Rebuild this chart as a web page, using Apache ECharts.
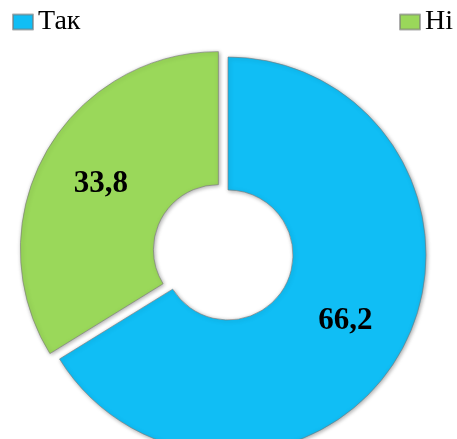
<!DOCTYPE html>
<html>
<head>
<meta charset="utf-8">
<script src="https://cdn.jsdelivr.net/npm/echarts@6/dist/echarts.min.js"></script>
<style>
html,body{margin:0;padding:0;background:#fff;}
#chart{width:457px;height:439px;}
</style>
</head>
<body>
<div id="chart"></div>
<script>
var categories = ['Так', 'Ні'];
var values = [66.2, 33.8];
var labelsText = ['66,2', '33,8'];
var colors = ['#10BEF5', '#9AD85A'];

var chart = echarts.init(document.getElementById('chart'), null, {renderer: 'canvas'});

var data = categories.map(function (c, i) {
  return {
    name: c,
    value: values[i],
    selected: i === 1,
    label: { formatter: labelsText[i] },
    itemStyle: { color: colors[i] }
  };
});

var legendText = { fontFamily: '"Times New Roman", "Liberation Serif", serif', fontSize: 28, color: '#000' };

chart.setOption({
  animation: false,
  legend: [
    {
      data: [categories[0]], left: 12, top: 8, padding: 0, itemWidth: 20, itemHeight: 15, itemGap: 5,
      icon: 'rect', selectedMode: false, textStyle: legendText
    },
    {
      data: [categories[1]], left: 399, top: 8, padding: 0, itemWidth: 20, itemHeight: 15, itemGap: 5,
      icon: 'rect', selectedMode: false, textStyle: legendText
    }
  ],
  series: [{
    type: 'pie',
    center: [228, 255],
    radius: [65, 198],
    startAngle: 90,
    clockwise: true,
    selectedMode: 'single',
    selectedOffset: 11,
    emphasis: { disabled: true },
    label: {
      show: true,
      position: 'inside',
      fontFamily: '"Times New Roman", "Liberation Serif", serif',
      fontWeight: 'bold',
      fontSize: 31,
      color: '#000'
    },
    labelLine: { show: false },
    itemStyle: {
      borderColor: 'rgba(120,120,120,0.6)',
      borderWidth: 1,
      shadowBlur: 4,
      shadowColor: 'rgba(0,0,0,0.35)',
      shadowOffsetX: 1,
      shadowOffsetY: 1
    },
    data: data
  }]
});
</script>
</body>
</html>
